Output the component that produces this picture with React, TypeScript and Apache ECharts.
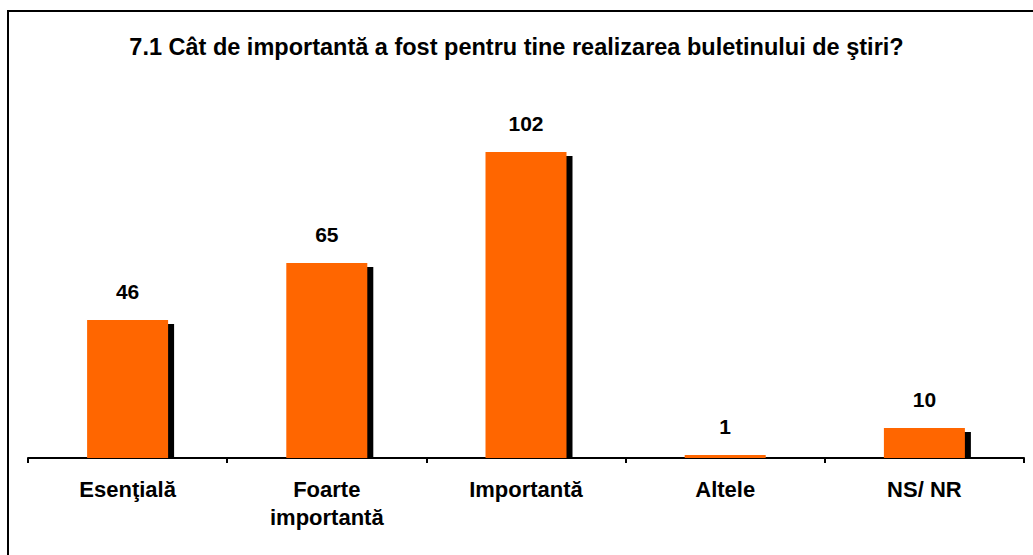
import React, { useEffect, useRef } from "react";
import * as echarts from "echarts";

const TITLE = "7.1 Cât de importantă a fost pentru tine realizarea buletinului de ştiri?";
const categories = ["Esenţială", "Foarte\nimportantă", "Importantă", "Altele", "NS/ NR"];
const values = [46, 65, 102, 1, 10];

const FONT = "'Liberation Sans', Arial, sans-serif";

export default function App() {
  const ref = useRef<HTMLDivElement>(null);
  useEffect(() => {
    if (!ref.current) return;
    const chart = echarts.init(ref.current, null, { renderer: "svg" });
    const BAR_W = 81;
    chart.setOption({
      animation: false,
      backgroundColor: "#ffffff",
      title: {
        text: TITLE,
        left: "center",
        top: 30,
        textStyle: { fontFamily: FONT, fontWeight: "bold", fontSize: 23.5, color: "#000" },
      },
      graphic: [
        {
          type: "rect",
          shape: { x: 8, y: 11, width: 1200, height: 700 },
          style: { fill: "none", stroke: "#000", lineWidth: 2 },
          silent: true,
          z: 100,
        },
      ],
      grid: { left: 28, right: 9, top: 98, bottom: 97 },
      xAxis: {
        type: "category",
        data: categories,
        axisLine: { lineStyle: { color: "#000", width: 2 } },
        axisTick: { show: true, length: 5, lineStyle: { color: "#000", width: 2 } },
        axisLabel: {
          interval: 0,
          margin: 17,
          fontFamily: FONT,
          fontWeight: "bold",
          fontSize: 22,
          lineHeight: 28,
          color: "#000",
        },
      },
      yAxis: { type: "value", min: 0, max: 120, show: false, splitLine: { show: false } },
      series: [
        {
          type: "custom",
          z: 1,
          data: values.map((v, i) => [i, v]),
          renderItem: (params: any, api: any) => {
            const idx = api.value(0);
            const val = api.value(1);
            const top = api.coord([idx, val]);
            const base = api.coord([idx, 0]);
            const h = base[1] - top[1] - 4;
            if (h <= 0) return { type: "group", children: [] };
            return {
              type: "rect",
              shape: { x: top[0] - BAR_W / 2 + 6, y: top[1] + 4, width: BAR_W, height: h },
              style: { fill: "#000" },
            };
          },
        },
        {
          type: "bar",
          z: 2,
          data: values,
          barWidth: BAR_W,
          itemStyle: { color: "#FF6600" },
          label: {
            show: true,
            position: "top",
            distance: 18,
            fontFamily: FONT,
            fontWeight: "bold",
            fontSize: 21,
            color: "#000",
          },
        },
      ],
    });
    return () => chart.dispose();
  }, []);
  return (
    <div
      ref={ref}
      style={{ position: "absolute", left: 0, top: 0, width: 1033, height: 555 }}
    />
  );
}
